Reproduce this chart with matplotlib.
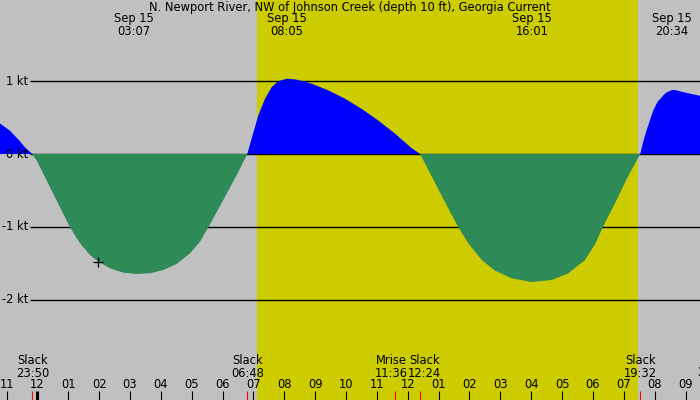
import matplotlib
matplotlib.use("Agg")
import matplotlib.pyplot as plt
import matplotlib.transforms as mtransforms

# hours since Sep 15 00:00, current speed in knots
hours = [-1.214, -0.89, -0.6, -0.4, -0.167,
         0.0, 0.462, 1.055, 1.379, 1.703, 1.972, 2.351, 2.782, 3.161, 3.647, 4.078, 4.512, 4.943,
         5.267, 5.536, 6.022, 6.457, 6.8,
         6.94, 7.157, 7.374, 7.591, 7.805, 8.077, 8.346, 8.615, 8.887, 9.425, 9.966, 10.507,
         11.045, 11.586, 12.127, 12.4,
         13.013, 13.638, 13.962, 14.395, 14.826, 15.368, 16.016, 16.664, 17.203, 17.743, 18.07,
         18.317, 18.715, 19.146, 19.533,
         19.63, 19.742, 19.956, 20.086, 20.228, 20.358, 20.567, 20.66, 20.928, 21.47]
knots = [0.42, 0.32, 0.19, 0.09, 0.0,
         -0.11, -0.504, -1.008, -1.228, -1.388, -1.48, -1.571, -1.631, -1.649, -1.64, -1.594, -1.512, -1.365,
         -1.205, -1.008, -0.632, -0.289, 0.0,
         0.21, 0.53, 0.76, 0.92, 1.0, 1.035, 1.026, 1.0, 0.966, 0.875, 0.76, 0.62,
         0.46, 0.28, 0.08, 0.0,
         -0.504, -1.008, -1.228, -1.457, -1.603, -1.709, -1.76, -1.732, -1.64, -1.457, -1.24,
         -1.008, -0.677, -0.302, 0.0,
         0.17, 0.33, 0.60, 0.71, 0.78, 0.84, 0.88, 0.88, 0.85, 0.80]

# max/min current labels at the top
peak_hours = [3.117, 8.083, 16.017, 20.567]
peak_labels = ["Sep 15\n03:07", "Sep 15\n08:05", "Sep 15\n16:01", "Sep 15\n20:34"]

# events along the bottom
event_hours = [-0.167, 6.8, 11.6, 12.4, 19.533]
event_label_hours = [-0.167, 6.8, 11.47, 12.55, 19.533]
event_labels = ["Slack\n23:50", "Slack\n06:48", "Mrise\n11:36", "Slack\n12:24", "Slack\n19:32"]

sunrise, sunset = 7.124, 19.451
hour_ticks = list(range(-1, 22))
hour_names = ["%02d" % (((h - 1) % 12) + 1) for h in hour_ticks]

levels = [1, 0, -1, -2]
level_labels = ["1 kt", "0 kt", "-1 kt", "-2 kt"]

now_hour, now_knots = 1.96, -1.48

# pixel layout: 30.86 px per hour, hour 0 at x=37.45; 0 kt at y=154, 72.75 px per kt
W, H = 700, 400
x0, pxh = 37.45, 30.86
y0, pxk = 154, 72.75
xmin, xmax = -x0 / pxh, (W - x0) / pxh
ymax, ymin = y0 / pxk, (y0 - H) / pxk
fs = 8.3

fig = plt.figure(figsize=(7, 4), dpi=100)
ax = fig.add_axes([0, 0, 1, 1])
ax.set_xlim(xmin, xmax)
ax.set_ylim(ymin, ymax)
ax.axis("off")
ax.add_patch(plt.Rectangle((0, 0), 1, 1, transform=ax.transAxes, color="#c0c0c0", zorder=0))
ax.axvspan(sunrise, sunset, color="#cccc00", lw=0, zorder=1)

ax.hlines(levels, (30 - x0) / pxh, xmax, colors="black", lw=1.0, zorder=2)
for lv, lab in zip(levels, level_labels):
    ax.text((28 - x0) / pxh, lv, lab, ha="right", va="center", fontsize=fs, zorder=5)

ax.fill_between(hours, knots, 0, where=[k >= 0 for k in knots], interpolate=True,
                color="#0000ff", lw=0, zorder=3)
ax.fill_between(hours, knots, 0, where=[k <= 0 for k in knots], interpolate=True,
                color="#2e8b57", lw=0, zorder=3)

ax.plot([now_hour], [now_knots], marker="+", color="black", ms=7, mew=0.9, zorder=6)

yfrac = mtransforms.blended_transform_factory(ax.transData, ax.transAxes)


def fy(py):
    return 1 - py / H


ax.text(0.5, fy(8), "N. Newport River, NW of Johnson Creek (depth 10 ft), Georgia Current",
        transform=ax.transAxes, ha="center", va="center", fontsize=fs, zorder=6)
for h, lab in zip(peak_hours, peak_labels):
    ax.text(h, fy(25), lab, transform=yfrac, ha="center", va="center",
            fontsize=fs, linespacing=1.0, zorder=6)

for h, lab in zip(event_label_hours, event_labels):
    ax.text(h, fy(367), lab, transform=yfrac, ha="center", va="center",
            fontsize=fs, linespacing=1.0, zorder=6)
# next label's time, cut off by the right edge as in the original
ax.text((697 - x0) / pxh, fy(373), "2", transform=yfrac, ha="left", va="center",
        fontsize=fs, zorder=6)

for h, name in zip(hour_ticks, hour_names):
    ax.text(h, fy(385), name, transform=yfrac, ha="center", va="center", fontsize=fs, zorder=6)
    ax.vlines(h, fy(400), fy(391), transform=yfrac, colors="black",
              lw=2.2 if h == 0 else 0.8, zorder=6)
for h in event_hours:
    ax.vlines(h, fy(400), fy(391), transform=yfrac, colors="red", lw=0.8, zorder=6)

fig.savefig("out.png", dpi=100)
